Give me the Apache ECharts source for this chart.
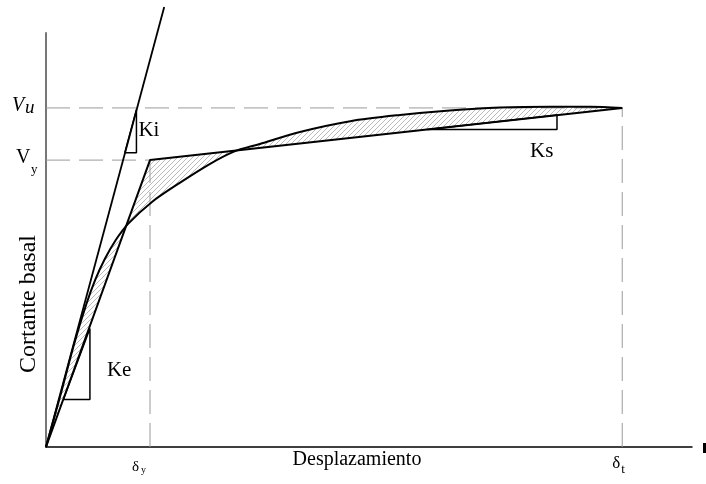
<!DOCTYPE html>
<html>
<head>
<meta charset="utf-8">
<script src="https://cdn.jsdelivr.net/npm/echarts@6/dist/echarts.min.js"></script>
<style>
  html, body { margin: 0; padding: 0; background: #fff; }
  #chart { width: 706px; height: 484px; }
</style>
</head>
<body>
<div id="chart"></div>
<script>
// yield / ultimate points (axis units 0..100)
var dy = 16.1, dt = 89.2, Vy = 69.3, Vu = 81.9;

var bilinear = [[0, 0], [dy, Vy], [dt, Vu]];
var kiLine = [[0, 0], [18.3, 106.3]];
var curve = [
  [0, 0], [2.2, 12.3], [4.3, 24.6], [6.2, 34.3], [7.6, 40.3], [9.1, 45.4],
  [10.8, 50.0], [12.7, 53.9], [16.4, 59.2], [20.7, 63.8], [25.4, 68.4],
  [29.0, 71.3], [33.1, 73.2], [39.3, 76.1], [47.1, 78.7], [54.8, 80.2],
  [62.5, 81.3], [70.3, 82.0], [78.0, 82.2], [84.2, 82.2], [dt, Vu]
];
var keTri = [[2.7, 11.5], [6.8, 11.5], [6.8, 28.6], [2.7, 11.5]];
var kiTri = [[12.2, 71.1], [14.0, 71.1], [14.0, 81.5], [12.2, 71.1]];
var ksTri = [[59.0, 76.7], [79.1, 76.7], [79.1, 80.2], [59.0, 76.7]];

var dashV = [[[0, Vu], [dt, Vu]], [[0, Vy], [dy, Vy]], [[dy, 0], [dy, Vy]], [[dt, 0], [dt, Vu]]];

// hatch pattern
var cv = document.createElement('canvas');
cv.width = 5; cv.height = 5;
var cx = cv.getContext('2d');
cx.strokeStyle = '#a8a8a8';
cx.lineWidth = 0.8;
cx.beginPath();
cx.moveTo(-1, 6); cx.lineTo(6, -1);
cx.moveTo(-1, 1); cx.lineTo(1, -1);
cx.moveTo(4, 6); cx.lineTo(6, 4);
cx.stroke();
var hatch = { image: cv, repeat: 'repeat' };

var chart = echarts.init(document.getElementById('chart'));

var series = [];
dashV.forEach(function (d) {
  series.push({
    type: 'line', data: d, symbol: 'none', silent: true,
    lineStyle: { color: '#9a9a9a', width: 1, type: [24, 9] }
  });
});
series.push({
  type: 'custom', data: [0], silent: true,
  renderItem: function (params, api) {
    var pts = bilinear.concat(curve.slice().reverse()).map(function (p) { return api.coord(p); });
    return { type: 'polygon', shape: { points: pts }, style: { fill: hatch, stroke: null } };
  }
});
series.push({ type: 'line', data: curve, smooth: 0.3, symbol: 'none', silent: true,
  lineStyle: { color: '#000', width: 2 } });
series.push({ type: 'line', data: bilinear, symbol: 'none', silent: true,
  lineStyle: { color: '#000', width: 2 } });
series.push({ type: 'line', data: kiLine, symbol: 'none', silent: true, clip: false,
  lineStyle: { color: '#000', width: 1.8 } });
[keTri, kiTri, ksTri].forEach(function (t) {
  series.push({ type: 'line', data: t, symbol: 'none', silent: true,
    lineStyle: { color: '#000', width: 1.5 } });
});

chart.setOption({
  animation: false,
  grid: { left: 46, right: 14, top: 33, bottom: 37 },
  xAxis: {
    type: 'value', min: 0, max: 100,
    axisLine: { show: true, onZero: false, lineStyle: { color: '#000', width: 1.5 } },
    axisTick: { show: false }, axisLabel: { show: false }, splitLine: { show: false }
  },
  yAxis: {
    type: 'value', min: 0, max: 100,
    axisLine: { show: true, onZero: false, lineStyle: { color: '#777', width: 2 } },
    axisTick: { show: false }, axisLabel: { show: false }, splitLine: { show: false }
  },
  series: series
});

function px(p) { return chart.convertToPixel({ gridIndex: 0 }, p); }
var serif = '"Liberation Serif", "DejaVu Serif", serif';
function txt(s, x, y, size, extra) {
  var st = { text: s, font: size + 'px ' + serif, fill: '#000', textVerticalAlign: 'middle' };
  for (var k in extra) st[k] = extra[k];
  return { type: 'text', x: x, y: y, style: st, silent: true };
}
var pVu = px([0, Vu]), pVy = px([0, Vy]), pdy = px([dy, 0]), pdt = px([dt, 0]);
var pKi = px([kiTri[1][0], (kiTri[1][1] + kiTri[2][1]) / 2]);
var pKe = px([keTri[1][0], keTri[1][1]]);
var pKs = px([ksTri[1][0], ksTri[1][1]]);

chart.setOption({
  graphic: [
    txt('V', 12, pVu[1] - 2, 20, { font: 'italic 20px ' + serif }),
    txt('u', 25, pVu[1], 19, { font: 'italic 19px ' + serif }),
    txt('V', 16, pVy[1] - 2, 20),
    txt('y', 31, pVy[1] + 9, 13),
    txt('Ki', pKi[0] + 2, pKi[1] - 1, 21),
    txt('Ke', pKe[0] + 17, pKe[1] - 29, 21),
    txt('Ks', pKs[0] - 27, pKs[1] + 22, 21),
    txt('Desplazamiento', 357, pdy[1] + 13, 20, { textAlign: 'center' }),
    txt('\u03b4', pdy[0] - 18, pdy[1] + 20, 15),
    txt('y', pdy[0] - 9, pdy[1] + 23, 10),
    txt('\u03b4', pdt[0] - 10, pdt[1] + 17, 17),
    txt('t', pdt[0] - 1, pdt[1] + 23, 13),
    {
      type: 'text', x: 29, y: 304, rotation: Math.PI / 2, silent: true,
      style: { text: 'Cortante basal', font: '24px ' + serif, fill: '#000',
        textAlign: 'center', textVerticalAlign: 'middle' }
    },
    { type: 'rect', shape: { x: 703, y: 443, width: 3, height: 10 }, style: { fill: '#000' }, silent: true }
  ]
});
</script>
</body>
</html>
